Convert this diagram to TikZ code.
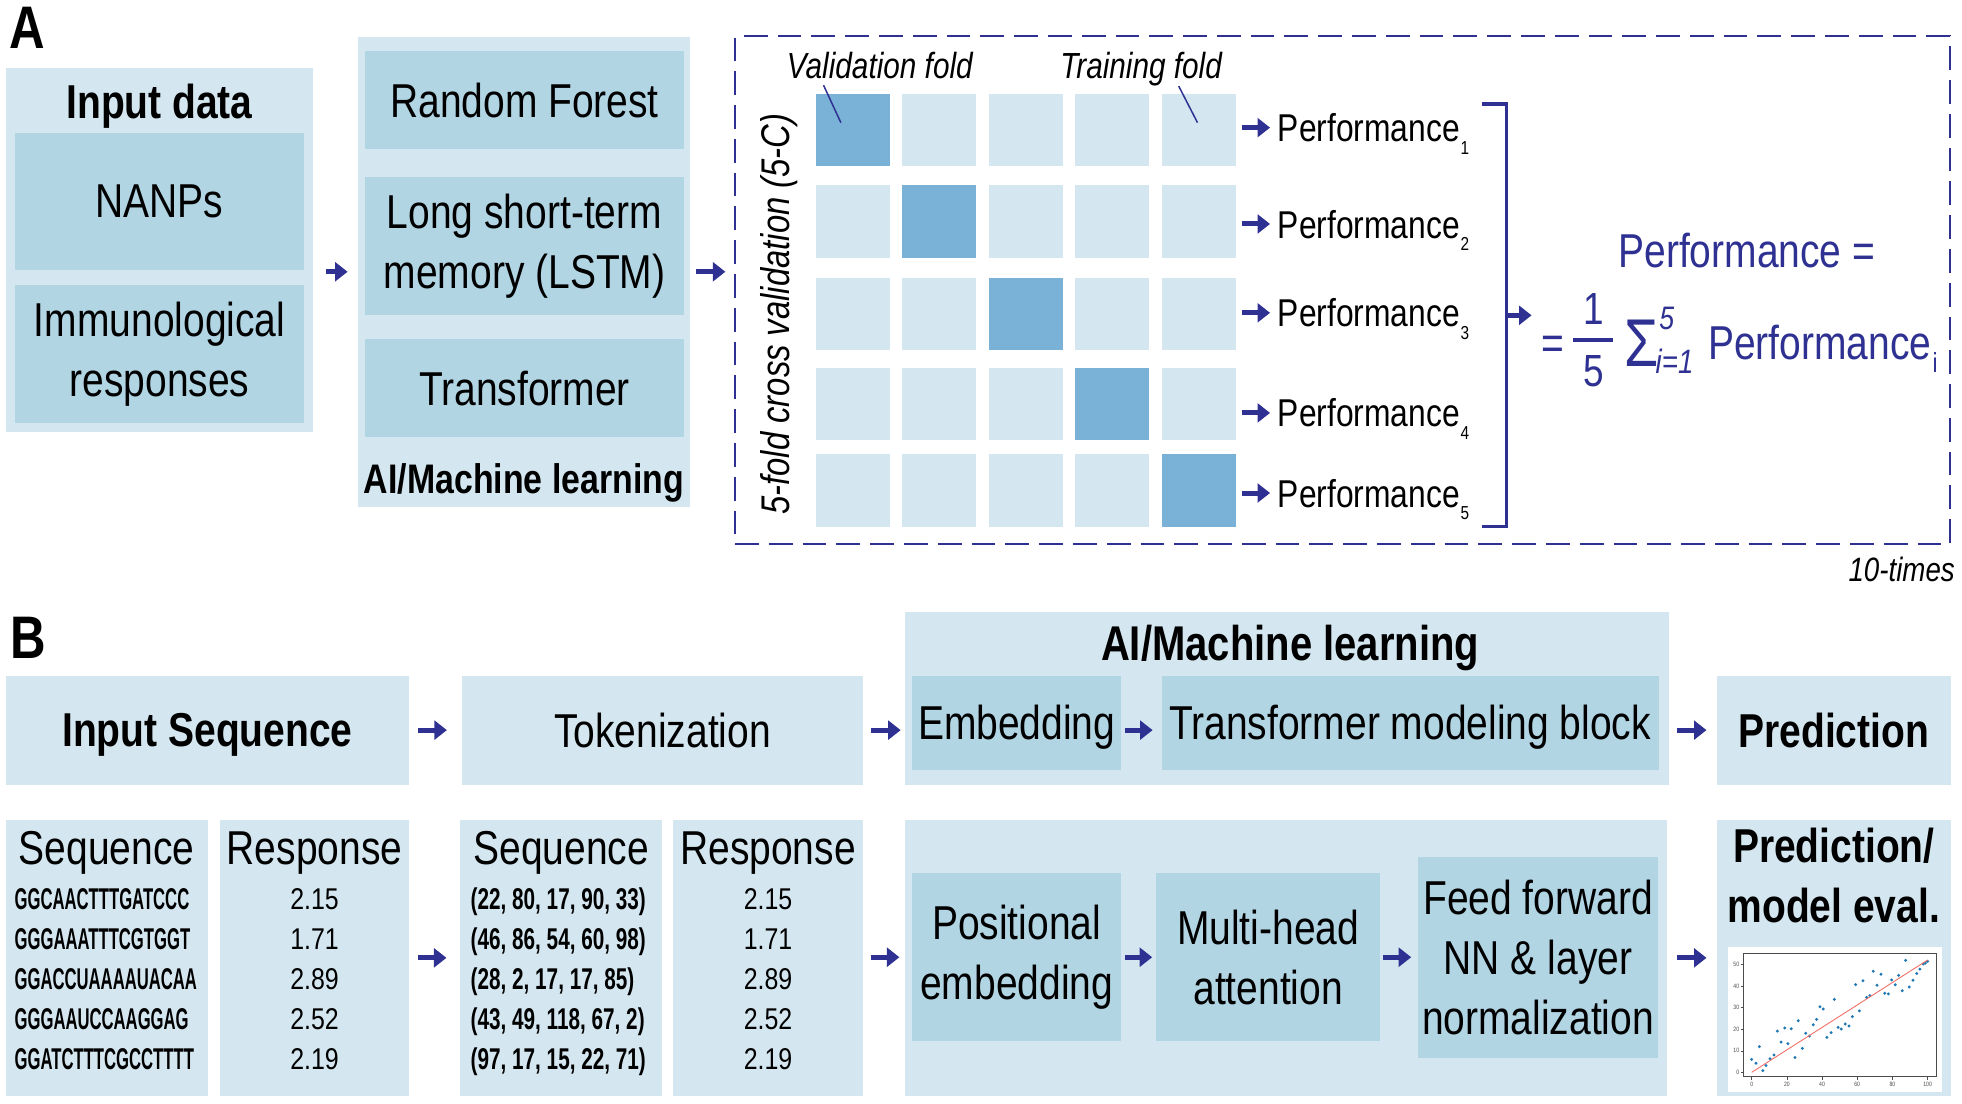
\documentclass[tikz,border=0pt]{standalone}
\usepackage{fontspec}
\setmainfont[FakeStretch=0.82]{Liberation Sans}
\newfontfamily\seqfont[FakeStretch=0.555]{Liberation Sans}
\newfontfamily\tokfont[FakeStretch=0.69]{Liberation Sans}
\newfontfamily\numfont[FakeStretch=0.83]{Liberation Sans}
\usetikzlibrary{arrows.meta, calc}

\definecolor{boxlight}{RGB}{212,231,240}
\definecolor{boxmid}{RGB}{178,213,228}
\definecolor{foldval}{RGB}{122,177,214}
\definecolor{navy}{RGB}{46,49,146}
\definecolor{mplblue}{RGB}{31,119,180}
\definecolor{fitred}{RGB}{240,110,100}

\newcommand{\fsz}[2]{\fontsize{#1}{#2}\selectfont}

\begin{document}
\begin{tikzpicture}[x=1pt, y=-1pt,
		outerbox/.style={fill=boxlight, inner sep=0pt},
		innerbox/.style={fill=boxmid, inner sep=0pt, align=center, font=\fsz{38}{48}},
		lightbox/.style={fill=boxlight, inner sep=0pt, align=center, font=\fsz{38}{48}},
		onerow/.style={text depth=0pt},
		foldcell/.style={inner sep=0pt, minimum width=59pt, minimum height=58pt},
		flow/.style={draw=navy, line width=4pt, -{Triangle[length=10pt, width=15pt]}},
		leader/.style={draw=navy, line width=1.2pt},
		boldlbl/.style={inner sep=0pt, font=\fsz{38}{48}\bfseries},
		hdr/.style={inner sep=0pt, font=\fsz{38}{48}},
		perf/.style={inner sep=0pt, text depth=0pt, font=\fsz{31}{36}},
		formula/.style={inner sep=0pt, text=navy},
		panellbl/.style={inner sep=0pt, font=\fsz{48}{48}\bfseries},
		seqtxt/.style={inner sep=0pt, font=\fsz{24}{28}\seqfont\bfseries},
		toktxt/.style={inner sep=0pt, font=\fsz{24}{28}\tokfont\bfseries},
		numtxt/.style={inner sep=0pt, font=\fsz{24}{28}\numfont},
		ticklbl/.style={inner sep=0pt, font=\fsz{5}{5}, text=black!70},
	]
	\useasboundingbox (0,0) rectangle (1568,882);

	\node [panellbl, anchor=base] (lblA) at (22,38.6) {A};
	\node [outerbox, minimum width=246pt, minimum height=291pt] (indata) at (127.5,199.5) {};
	\node [boldlbl, anchor=base] (indatattl) at (127.5,94.6) {Input data};
	\node [innerbox, onerow, minimum width=231.6pt, minimum height=110pt] (nanps) at (127.5,161) {NANPs};
	\node [innerbox, minimum width=231.6pt, minimum height=110pt] (immuno) at (127.5,282.8) {Immunological\\responses};

	\node [outerbox, minimum width=265.4pt, minimum height=375.7pt] (mlA) at (418.7,217.2) {};
	\node [innerbox, onerow, minimum width=255pt, minimum height=78.8pt] (rf) at (419.2,79.9) {Random Forest};
	\node [innerbox, minimum width=255pt, minimum height=110pt] (lstm) at (419.2,196.7) {Long short-term\\memory (LSTM)};
	\node [innerbox, onerow, minimum width=255pt, minimum height=78.5pt] (trf) at (419.2,310.2) {Transformer};
	\node [boldlbl, font=\fsz{33}{40}\bfseries, anchor=base] (mlAttl) at (418.7,394) {AI/Machine learning};

	\node [draw=navy, line width=1.6pt, dash pattern=on 19pt off 8pt, inner sep=0pt, minimum width=971pt, minimum height=406pt] (cvbox) at (1073,232) {};

	\draw [flow, shorten <=10pt, shorten >=8pt] (indata.east |- mlA.west) -- (mlA.west);
	\draw [flow, shorten <=5pt, shorten >=7pt] (mlA.east) -- (mlA.east -| cvbox.west);

	\foreach \r/\y in {1/104,2/177,3/251,4/323,5/392} {
		\foreach \c in {1,...,5} {
			\ifnum\c=\r \def\cellfill{foldval}\else \def\cellfill{boxlight}\fi
			\node [foldcell, fill=\cellfill] (c\r\c) at ({681.5+69.1*(\c-1)},\y) {};
		}
	}

	\node [inner sep=0pt, font=\fsz{29}{34}\itshape, anchor=base west] (valfold) at (628.7,62.6) {Validation fold};
	\node [inner sep=0pt, font=\fsz{29}{34}\itshape, anchor=base] (trnfold) at (912,62.6) {Training fold};
	\coordinate (valtip) at (672,98);
	\coordinate (trntip) at (957,98);
	\draw [leader] ([xshift=-45pt, yshift=-5pt]valfold.south) -- (valtip);
	\draw [leader] ([xshift=30pt]trnfold.south) -- (trntip);

	\node [inner sep=0pt, rotate=90, font=\fsz{32}{36}\itshape] (cvlbl) at (623,251) {5-fold cross validation (5-C)};

	\foreach \r/\y in {1/102,2/179,3/250,4/330,5/394} {
		\node [perf, anchor=west] (perf\r) at (1021,\y) {Performance\kern0.5pt\raisebox{-10pt}{\fsz{15}{15}\r}};
		\draw [flow, shorten <=4.6pt, shorten >=6pt] (c\r5.east |- perf\r.west) -- (perf\r.west);
	}

	\draw [navy, line width=2.7pt] (1184,83) -- (1204,83) -- (1204,421) -- (1184,421);
	\coordinate (brk) at (1204,252);

	\node [formula, font=\fsz{38}{40}, text depth=0pt] (perfeq) at (1396,200) {Performance =};
	\node [formula, font=\fsz{38}{40}, anchor=base west] (eqs) at (1232,287.7) {=};
	\node [formula, font=\fsz{36}{40}, anchor=base] (fnum) at (1273.4,259.7) {1};
	\node [formula, font=\fsz{36}{40}, anchor=base] (fden) at (1273.4,309) {5};
	\draw [navy, line width=2.6pt] ($(fnum.base)+(-16,12)$) -- ($(fnum.base)+(16,12)$);
	\node [formula, font=\fsz{54}{54}, anchor=base] (sigma) at (1312,293) {Σ};
	\node [formula, font=\fsz{26}{26}\itshape, anchor=base west] (sigsup) at (1326,263.7) {5};
	\node [formula, font=\fsz{27}{27}\itshape, anchor=base west] (sigsub) at (1323,298.4) {i=1};
	\node [formula, font=\fsz{38}{40}, anchor=base west] (perfi) at (1365,287.7) {Performance\kern1pt\raisebox{-10.3pt}{\fsz{22}{22}i}};
	\draw [flow, shorten >=8pt] (brk) -- (brk -| eqs.west);

	\node [inner sep=0pt, font=\fsz{27}{30}\itshape, anchor=base east] (reps) at (1562.4,465) {10-times};

	\node [panellbl, anchor=base] (lblB) at (23,526.3) {B};
	\node [lightbox, onerow, font=\fsz{38}{48}\bfseries, minimum width=322.4pt, minimum height=87pt] (inseq) at (165.8,583.5) {Input Sequence};
	\node [lightbox, onerow, minimum width=320.3pt, minimum height=87pt] (tokz) at (529.5,583.5) {Tokenization};
	\node [outerbox, minimum width=610.1pt, minimum height=138pt] (mlB) at (1028.6,558) {};
	\node [boldlbl, font=\fsz{39}{44}\bfseries, anchor=base] (mlBttl) at (1031,527.7) {AI/Machine learning};
	\node [innerbox, onerow, minimum width=167pt, minimum height=75pt] (embd) at (812.5,577.5) {Embedding};
	\node [innerbox, onerow, minimum width=397.1pt, minimum height=75pt] (tblock) at (1126.9,577.5) {Transformer modeling block};
	\node [lightbox, onerow, font=\fsz{38}{48}\bfseries, minimum width=187pt, minimum height=87pt] (pred) at (1465.5,583.5) {Prediction};

	\draw [flow, shorten <=7pt, shorten >=12pt] (inseq) -- (tokz);
	\draw [flow, shorten <=6.4pt, shorten >=9pt] (tokz.east) -- (tokz.east -| embd.west);
	\draw [flow, shorten <=3pt, shorten >=7pt] (embd.east |- tokz.east) -- (tokz.east -| tblock.west);
	\draw [flow, shorten <=14.6pt, shorten >=8pt] (tblock.east |- pred.west) -- (pred.west);

	\node [lightbox, minimum width=161.4pt, minimum height=221pt] (seqcol) at (85.3,765.5) {};
	\node [lightbox, minimum width=151.3pt, minimum height=221pt] (rspcol) at (251.4,765.5) {};
	\node [lightbox, minimum width=161pt, minimum height=221pt] (tseqcol) at (448.5,765.5) {};
	\node [lightbox, minimum width=151.6pt, minimum height=221pt] (trspcol) at (613.8,765.5) {};
	\node [hdr, anchor=base] (seqhd) at (85.3,691) {Sequence};
	\node [hdr, anchor=base] (rsphd) at (251.4,691) {Response};
	\node [hdr, anchor=base] (tseqhd) at (448.5,691) {Sequence};
	\node [hdr, anchor=base] (trsphd) at (613.8,691) {Response};
	\foreach \s/\v/\t [count=\i] in {GGCAACTTTGATCCC/2.15/{(22, 80, 17, 90, 33)}, GGGAAATTTCGTGGT/1.71/{(46, 86, 54, 60, 98)}, GGACCUAAAAUACAA/2.89/{(28, 2, 17, 17, 85)}, GGGAAUCCAAGGAG/2.52/{(43, 49, 118, 67, 2)}, GGATCTTTCGCCTTTT/2.19/{(97, 17, 15, 22, 71)}} {
		\node [seqtxt, anchor=base west] (seq\i) at (11.5,{727+32*(\i-1)}) {\s};
		\node [numtxt, anchor=base] (rsp\i) at (251.4,{727+32*(\i-1)}) {\v};
		\node [toktxt, anchor=base west] (tok\i) at (376,{727+32*(\i-1)}) {\t};
		\node [numtxt, anchor=base] (trsp\i) at (613.8,{727+32*(\i-1)}) {\v};
	}

	\node [outerbox, minimum width=608.4pt, minimum height=221pt] (mlL) at (1027.8,765.5) {};
	\node [innerbox, minimum width=167pt, minimum height=134pt] (posemb) at (812.5,765) {Positional\\embedding};
	\node [innerbox, minimum width=179pt, minimum height=134pt] (mha) at (1013.5,765) {Multi-head\\attention};
	\node [innerbox, minimum width=192.4pt, minimum height=160.5pt] (ffn) at (1229.2,765.2) {Feed forward\\NN \& layer\\normalization};
	\node [lightbox, minimum width=187pt, minimum height=221pt] (predev) at (1465.5,765.5) {};
	\node [boldlbl, align=center] (predevttl) at (1465.5,699.4) {Prediction/\\model eval.};

	\draw [flow, shorten <=7pt, shorten >=11pt] (rspcol) -- (tseqcol);
	\draw [flow, shorten <=6.4pt, shorten >=10pt] (trspcol.east |- posemb.west) -- (posemb.west);
	\draw [flow, shorten <=3pt, shorten >=3pt] (posemb) -- (mha);
	\draw [flow, shorten <=2pt, shorten >=5pt] (mha.east) -- (mha.east -| ffn.west);
	\draw [flow, shorten <=14.6pt, shorten >=8pt] (ffn.east |- predev.west) -- (predev.west);

	\fill [white] (1381,756.6) rectangle (1551.7,872.4);
	\begin{scope}[shift={(1399.9,857)}, x=1.406pt, y=1.726pt]
		\draw [black!70, line width=0.5pt] (-4.9,-2) rectangle (105.1,55.1);
		\foreach \t in {0,20,...,100} {
			\draw [black!70, line width=0.4pt] (\t,-2) -- (\t,-3.5);
			\node [ticklbl, anchor=north] (xt\t) at (\t,-4.2) {\t};
		}
		\foreach \t in {0,10,...,50} {
			\draw [black!70, line width=0.4pt] (-4.9,\t) -- (-6.2,\t);
			\node [ticklbl, anchor=east] (yt\t) at (-7,\t) {\t};
		}
		\foreach \px/\py in {0/6.0,2.5/4.2,4.4/11.9,6.3/0.8,8.1/3.2,10.4/6.3,12.7/8.0,14.6/19.1,16.7/14.0,18.8/20.5,20.6/13.3,22.5/20.2,24.6/6.9,26.5/23.9,28.8/11.1,30.7/18.1,32.8/16.8,35.0/22.0,36.9/24.5,38.8/30.4,40.7/29.3,42.8/16.2,45.1/18.4,47.0/33.8,49.1/20.8,50.9/20.1,53.2/22.4,55.3/21.5,57.2/25.8,59.1/40.6,61.2/28.5,63.3/42.4,65.3/34.7,67.2/35.5,69.1/46.8,71.2/40.3,73.5/45.4,75.6/36.6,77.7/36.3,79.5/42.8,81.6/40.6,83.5/44.9,85.6/37.8,87.5/51.8,89.6/39.5,91.7/42.6,93.8/45.8,95.6/47.8,97.5/50.2,98.7/50.6,100/51.4}
			\fill [mplblue] (\px,\py) circle [radius=1.3pt];
		\draw [fitred, line width=0.7pt] (0,0) -- (100,52);
	\end{scope}
\end{tikzpicture}
\end{document}
